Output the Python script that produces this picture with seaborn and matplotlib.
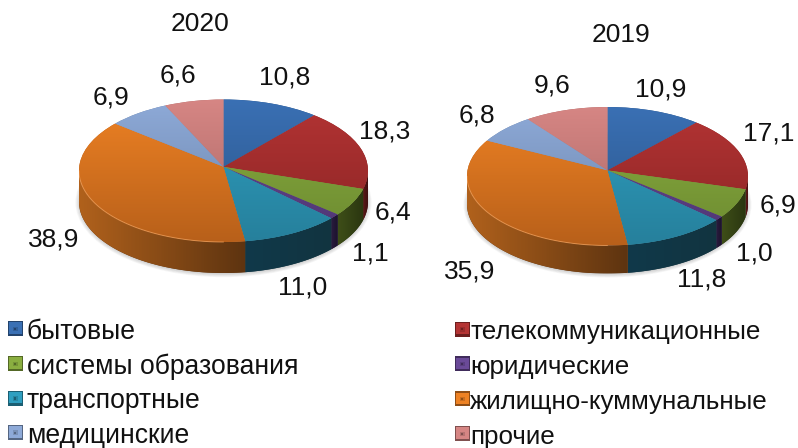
import numpy as np
import matplotlib.pyplot as plt
import seaborn as sns
from matplotlib.colors import to_rgb, LinearSegmentedColormap
from matplotlib.legend_handler import HandlerBase
from matplotlib.patches import Ellipse, Polygon, Rectangle

categories = ['бытовые', 'телекоммуникационные', 'системы образования', 'юридические',
              'транспортные', 'жилищно-куммунальные', 'медицинские', 'прочие']
values_2020 = [10.8, 18.3, 6.4, 1.1, 11.0, 38.9, 6.9, 6.6]
values_2019 = [10.9, 17.1, 6.9, 1.0, 11.8, 35.9, 6.8, 9.6]
labels_2020 = ['10,8', '18,3', '6,4', '1,1', '11,0', '38,9', '6,9', '6,6']
labels_2019 = ['10,9', '17,1', '6,9', '1,0', '11,8', '35,9', '6,8', '9,6']

top_light = ['#3a70b4', '#b43434', '#8aae40', '#6a4a98', '#2f9fc0', '#ee8224', '#8eaad8', '#d68684']
top_dark = ['#2a5488', '#8a2424', '#6c8a30', '#4e3572', '#26809c', '#b8601a', '#6b84aa', '#a86664']
wall_light = ['#1e3a5e', '#5e1818', '#3e4e18', '#2a1c40', '#10394a', '#b0611c', '#4a5c78', '#704444']
wall_dark = ['#142840', '#3e1010', '#2a3610', '#1c122c', '#123440', '#5e3410', '#34425a', '#503030']

W, H = 798, 448
sns.set_theme(style='white')
plt.rcParams['font.family'] = ['Liberation Sans', 'DejaVu Sans']
fig = plt.figure(figsize=(W / 100, H / 100), dpi=100)


def ramp(c1, c2):
    return LinearSegmentedColormap.from_list('r', [to_rgb(c1), to_rgb(c2)])


def put_text(x, y, s):
    fig.text(x / W, 1 - y / H, s, ha='center', va='center', fontsize=19, color='#111111')


def draw_pie(values, left, right, top, bottom, depth, apex_dy):
    # axes holds the top ellipse in unit coords plus the wall below it
    ry = (bottom - top) / 2
    d = depth / ry
    ax = fig.add_axes([left / W, 1 - (bottom + depth) / H, (right - left) / W, (bottom + depth - top) / H])
    ax.axis('off')

    # soft shadow under the disc
    for k in range(6):
        ax.add_patch(Ellipse((0, -d * 1.02), 1.99 + 0.012 * k, 2.0 + 0.02 * k, color='#555555',
                             alpha=0.05, lw=0, clip_on=False, zorder=0))

    wedges, _ = ax.pie(values, startangle=90, counterclock=False, radius=1.0, center=(0, 0))
    ax.set_aspect('auto')
    ax.set_xlim(-1, 1)
    ax.set_ylim(-1 - d, 1)

    # walls, only the part of each slice facing the viewer
    for i, w in enumerate(wedges):
        a1, a2 = w.theta1 % 360, w.theta2 % 360
        if a2 < a1:
            a2 += 360
        lo, hi = max(a1, 180), min(a2, 360)
        if hi <= lo:
            continue
        t = np.radians(np.linspace(lo, hi, 60))
        xs, ys = np.cos(t), np.sin(t)
        poly = np.column_stack([np.r_[xs, xs[::-1]], np.r_[ys, ys[::-1] - d]])
        patch = Polygon(poly, closed=True, color=wall_dark[i], lw=0, zorder=2)
        ax.add_patch(patch)
        grad = ax.imshow(np.linspace(0, 1, 64).reshape(1, -1), extent=(xs.min(), xs.max(), -1 - d, 0),
                         cmap=ramp(wall_light[i], wall_dark[i]), aspect='auto', zorder=2.5)
        grad.set_clip_path(patch)

    # top faces with a vertical gradient, apex nudged for the perspective look
    for i, w in enumerate(wedges):
        path = w.get_path()
        near = np.hypot(path.vertices[:, 0], path.vertices[:, 1]) < 1e-6
        path.vertices[near] = (0, apex_dy)
        w.set_facecolor(top_dark[i])
        w.set_edgecolor('none')
        w.set_zorder(3)
        grad = ax.imshow(np.linspace(0, 1, 128).reshape(-1, 1), extent=(-1, 1, -1, 1),
                         cmap=ramp(top_light[i], top_dark[i]), aspect='auto', zorder=3.5, origin='upper')
        grad.set_clip_path(w)
    ax.set_xlim(-1, 1)
    ax.set_ylim(-1 - d, 1)

    # thin light rim along the front edge
    t = np.radians(np.linspace(180, 270, 80))
    ax.plot(np.cos(t), np.sin(t), color='#f6a560', lw=0.7, alpha=0.7, zorder=4)
    return ax


draw_pie(values_2020, 79, 368, 99.5, 242, 31, 0.055)
draw_pie(values_2019, 467, 748, 107, 245.5, 28, 0.085)

put_text(200, 24, '2020')
put_text(621, 35, '2019')
pos_2020 = [(285, 77), (385, 131), (393, 212), (370, 254), (303, 287), (54, 239), (111, 98), (178, 75)]
pos_2019 = [(661, 89), (769, 134), (778, 205), (754, 253), (702, 279), (470, 271), (477, 116), (552, 85)]
for (x, y), s in zip(pos_2020, labels_2020):
    put_text(x, y, s)
for (x, y), s in zip(pos_2019, labels_2019):
    put_text(x, y, s)


class BevelHandler(HandlerBase):
    def create_artists(self, legend, orig, x0, y0, width, height, fontsize, trans):
        c = orig.get_facecolor()
        side = 10.8
        x = x0
        y = y0 + height / 2 - side / 2 + 0.6
        dark = tuple(v * 0.6 for v in c[:3])
        mid = tuple(v * 0.85 for v in c[:3])
        arts = [Rectangle((x, y), side, side, facecolor=dark, edgecolor='none', transform=trans),
                Rectangle((x + 0.8, y + 1.6), side - 1.6, side - 2.4, facecolor=c, edgecolor='none', transform=trans),
                Rectangle((x + 3.6, y + 3.6), 3.4, 3.4, facecolor=mid, edgecolor='none', transform=trans),
                Rectangle((x + 4.6, y + 4.4), 1.4, 1.6, facecolor=dark, edgecolor='none', transform=trans)]
        return arts


# two legends, one per column, so each column can be sized on its own
def add_legend(idx, x, y, size, spacing, pad):
    handles = [Rectangle((0, 0), 1, 1, facecolor=top_light[i]) for i in idx]
    fig.legend(handles, [categories[i] for i in idx], frameon=False, fontsize=size,
               handler_map={Rectangle: BevelHandler()}, loc='upper left',
               bbox_to_anchor=(x / W, 1 - y / H), borderaxespad=0, borderpad=0,
               handlelength=0.58, handletextpad=pad, labelspacing=spacing, labelcolor='#111111')


add_legend([0, 2, 4, 6], 8, 319, 19.1, 0.317, 0.13)
add_legend([1, 3, 5, 7], 455, 320, 18.7, 0.42, 0.0)

fig.savefig('out.png', dpi=100, facecolor='white')
